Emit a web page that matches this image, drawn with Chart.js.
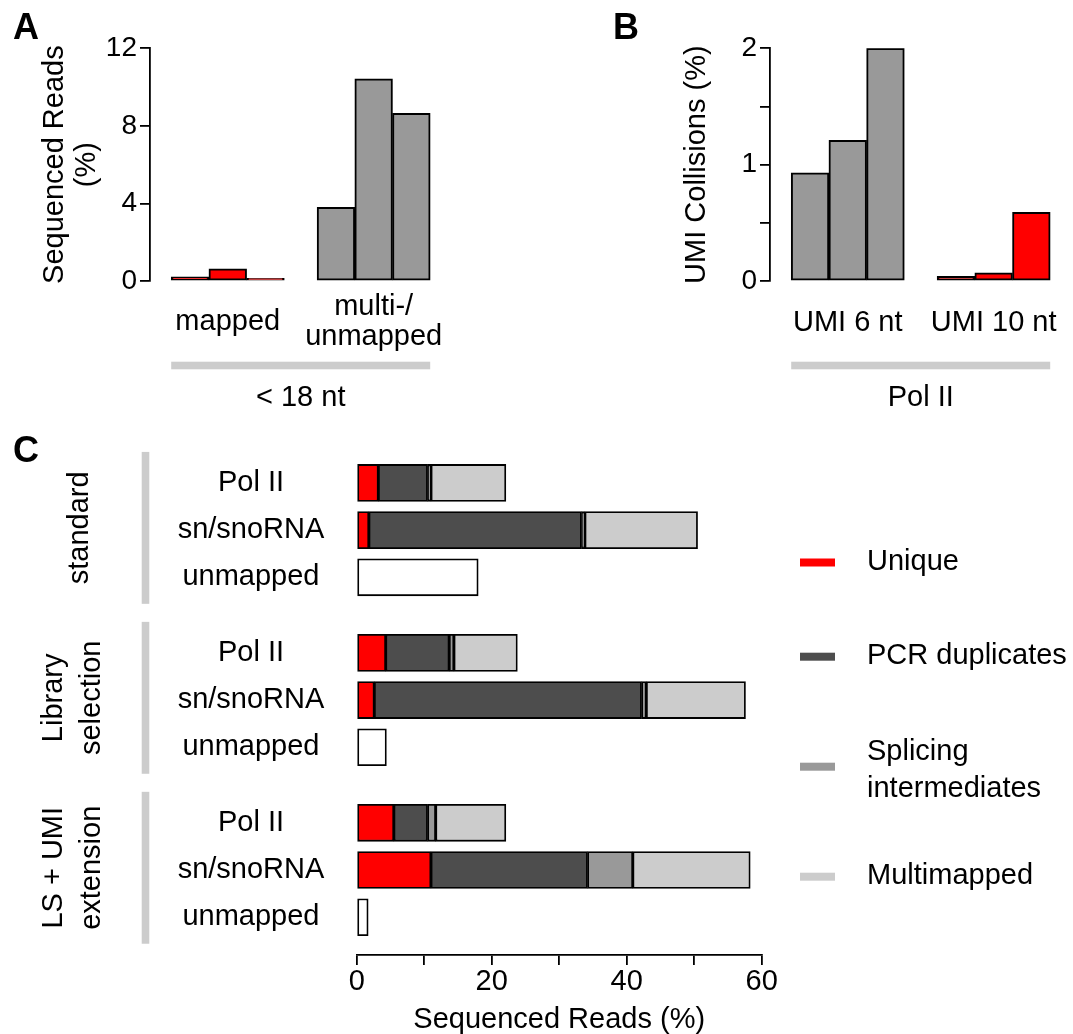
<!DOCTYPE html>
<html>
<head>
<meta charset="utf-8">
<script src="https://cdn.jsdelivr.net/npm/chart.js@4.4.1/dist/chart.umd.min.js"></script>
<style>
  html, body { margin: 0; padding: 0; background: #fff; }
  #figure { position: relative; width: 1073px; height: 1034px; overflow: hidden; background: #fff; }
  #figure canvas { position: absolute; left: 0; top: 0; }
</style>
</head>
<body>
<div id="figure">
  <canvas id="panelA" width="1073" height="1034"></canvas>
  <!-- wider than the figure so the last category label has room; the overflow is clipped -->
  <canvas id="panelB" width="1200" height="1034"></canvas>
  <canvas id="panelC" width="1073" height="1034"></canvas>
</div>
<script>
// ---------- data ----------
// library preparations (one bar per prep in panels A and B)
const preps = ['standard', 'Library selection', 'LS + UMI extension'];

// Panel A: reads shorter than 18 nt, % of sequenced reads
const shortReadClasses = ['mapped', ['multi-/', 'unmapped']];
const shortMapped = [0.22, 0.63, 0.14];
const shortMultiUnmapped = [3.8, 10.43, 8.65];
const shortTicks = [0, 4, 8, 12];

// Panel B: UMI collisions for Pol II reads, %
const umiLengths = ['UMI 6 nt', 'UMI 10 nt'];
const umi6Collisions = [0.93, 1.21, 2.0];
const umi10Collisions = [0.04, 0.07, 0.59];
const umiTicks = [0, 0.5, 1, 1.5, 2];

// Panel C: composition of sequenced reads, % (rows: Pol II, sn/snoRNA, unmapped per prep)
const prepGroups = ['standard', ['Library', 'selection'], ['LS + UMI', 'extension']];
const rowLabels = ['Pol II', 'sn/snoRNA', 'unmapped'];
const uniqueReads   = [3.2, 1.8, null, 4.3, 2.6, null, 5.5, 11.0, null];
const pcrDuplicates = [7.3, 31.5, null, 9.4, 39.6, null, 5.0, 23.2, null];
const splicingInter = [0.5, 0.5, null, 0.7, 0.7, null, 1.2, 6.7, null];
const multimapped   = [11.1, 16.7, null, 9.4, 14.7, null, 10.4, 17.4, null];
const unmappedReads = [null, null, 18.0, null, null, 4.4, null, null, 1.7];
const compositionTicks = [0, 10, 20, 30, 40, 50, 60];
const legendText = ['Unique', 'PCR duplicates', ['Splicing', 'intermediates'], 'Multimapped'];

// ---------- styling ----------
const FONT = "'Liberation Sans', Arial, Helvetica, sans-serif";
const RED = '#ff0000';
const GREY = '#999999';
const DARK = '#4d4d4d';
const LIGHT = '#cccccc';
const BAR_W = 37.7;
const W = 1073, H = 1034;

Chart.defaults.font.family = FONT;
Chart.defaults.font.size = 29;
Chart.defaults.color = '#000';
Chart.defaults.animation = false;
Chart.defaults.responsive = false;
Chart.defaults.devicePixelRatio = 1;
Chart.defaults.plugins.legend.display = false;
Chart.defaults.plugins.tooltip.enabled = false;

// grey bracket under a group of bars, with a caption, plus the panel letter
const bracketPlugin = {
  id: 'bracket',
  afterDraw(chart, args, opts) {
    const { ctx } = chart;
    const xs = chart.scales.x;
    const half = BAR_W * preps.length / 2;
    const x0 = xs.getPixelForValue(1) - half;
    const x1 = xs.getPixelForValue(opts.count) + half;
    ctx.save();
    ctx.fillStyle = LIGHT;
    ctx.fillRect(x0, 361.7, x1 - x0, 7.6);
    ctx.fillStyle = '#000';
    ctx.font = `29px ${FONT}`;
    ctx.textAlign = 'center';
    ctx.textBaseline = 'alphabetic';
    ctx.fillText(opts.caption, (x0 + x1) / 2, 406);
    ctx.font = `bold 36px ${FONT}`;
    ctx.textAlign = 'left';
    ctx.fillText(opts.letter, opts.letterX, 39);
    ctx.restore();
  }
};

function groupedBars(canvasId, o) {
  const canvas = document.getElementById(canvasId);
  const datasets = preps.map((name, i) => ({
    label: name,
    data: [{ x: 1, y: o.first[i] }, { x: 2, y: o.second[i] }],
    backgroundColor: o.colors,
    borderColor: '#000',
    borderWidth: 2,
    borderSkipped: false,
    barThickness: BAR_W
  }));
  return new Chart(canvas, {
    type: 'bar',
    data: { datasets },
    plugins: [bracketPlugin],
    options: {
      layout: { padding: { left: o.left, top: 48.3, right: canvas.width - o.right, bottom: 0 } },
      scales: {
        x: {
          type: 'linear', min: 0.467, max: 2.5, offset: false,
          afterBuildTicks: s => { s.ticks = o.labels.map((l, i) => ({ value: i + 1 })); },
          afterFit: s => { s.height = H - 281; },
          ticks: {
            autoSkip: false, maxRotation: 0, minRotation: 0,
            crossAlign: 'center', padding: o.labelPad,
            font: { size: 29, lineHeight: 1.03 },
            callback: v => o.labels[Math.round(v) - 1]
          },
          grid: { display: false, drawTicks: false, offset: false },
          border: { display: false }
        },
        y: {
          type: 'linear', min: 0, max: o.ticks[o.ticks.length - 1],
          afterBuildTicks: s => { s.ticks = o.ticks.map(v => ({ value: v })); },
          afterFit: s => { s.width = o.axisWidth; },
          ticks: { padding: 3, font: { size: 28 }, callback: o.tickLabel },
          grid: { display: true, drawOnChartArea: false, drawTicks: true, tickLength: 10, color: '#000', lineWidth: 1.8 },
          border: { display: true, color: '#000', width: 1.8 },
          title: { display: true, text: o.title, font: { size: 29, lineHeight: 1.1 }, padding: { top: o.titlePad, bottom: 0 } }
        }
      },
      plugins: { bracket: { caption: o.caption, count: o.labels.length, letter: o.letter, letterX: o.letterX } }
    }
  });
}

// Panel A
groupedBars('panelA', {
  first: shortMapped, second: shortMultiUnmapped, colors: [RED, GREY],
  labels: shortReadClasses, ticks: shortTicks, tickLabel: v => String(v),
  left: 0, axisWidth: 150, right: 446.6, labelPad: 26,
  title: ['Sequenced Reads', '(%)'], titlePad: 39,
  caption: '< 18 nt', letter: 'A', letterX: 13
});

// Panel B
groupedBars('panelB', {
  first: umi6Collisions, second: umi10Collisions, colors: [GREY, RED],
  labels: umiLengths, ticks: umiTicks, tickLabel: v => (Number.isInteger(v) ? String(v) : ''),
  left: 600, axisWidth: 170, right: 1066.6, labelPad: 42,
  title: 'UMI Collisions (%)', titlePad: 81,
  caption: 'Pol II', letter: 'B', letterX: 613
});

// Panel C: stacked horizontal bars on a numeric row axis (gap between preps)
const rowPos = [];
prepGroups.forEach((g, gi) => rowLabels.forEach((r, ri) => rowPos.push(gi * 3.6 + ri)));

const compositionSeries = [
  { label: 'Unique', values: uniqueReads, color: RED },
  { label: 'PCR duplicates', values: pcrDuplicates, color: DARK },
  { label: 'Splicing intermediates', values: splicingInter, color: GREY },
  { label: 'Multimapped', values: multimapped, color: LIGHT },
  { label: 'unmapped', values: unmappedReads, color: '#ffffff' }
];

const legendSwatchY = [562.5, 656.7, 766.7, 876.7];

const compositionDecor = {
  id: 'compositionDecor',
  afterDraw(chart) {
    const { ctx } = chart;
    const ys = chart.scales.y;
    ctx.save();
    // prep brackets and rotated prep names
    prepGroups.forEach((name, g) => {
      const top = ys.getPixelForValue(rowPos[g * 3]) - 31;
      const bottom = ys.getPixelForValue(rowPos[g * 3 + 2]) + 26.5;
      ctx.fillStyle = LIGHT;
      ctx.fillRect(141.7, top, 7.6, bottom - top);
      const lines = Array.isArray(name) ? name : [name];
      const baselines = lines.length === 1 ? [88.3] : [61.7, 100];
      ctx.fillStyle = '#000';
      ctx.font = `29px ${FONT}`;
      ctx.textAlign = 'center';
      ctx.textBaseline = 'alphabetic';
      lines.forEach((line, i) => {
        ctx.save();
        ctx.translate(baselines[i], (top + bottom) / 2);
        ctx.rotate(-Math.PI / 2);
        ctx.fillText(line, 0, 0);
        ctx.restore();
      });
    });
    // legend
    ctx.textAlign = 'left';
    ctx.textBaseline = 'alphabetic';
    ctx.font = `29px ${FONT}`;
    legendText.forEach((txt, i) => {
      const ds = chart.data.datasets[i];
      const cy = legendSwatchY[i];
      ctx.fillStyle = ds.backgroundColor;
      ctx.fillRect(800, cy - 4, 35, 8);
      ctx.fillStyle = '#000';
      if (Array.isArray(txt)) {
        ctx.fillText(txt[0], 867, cy - 6.7);
        ctx.fillText(txt[1], 867, cy + 30);
      } else {
        ctx.fillText(txt, 867, cy + 7.5);
      }
    });
    // panel letter
    ctx.font = `bold 36px ${FONT}`;
    ctx.fillText('C', 13, 462);
    ctx.restore();
  }
};

new Chart(document.getElementById('panelC'), {
  type: 'bar',
  data: {
    datasets: compositionSeries.map(s => ({
      label: s.label,
      stack: 'reads',
      data: s.values.map((v, i) => (v == null ? null : { x: v, y: rowPos[i] })).filter(Boolean),
      backgroundColor: s.color,
      borderColor: '#000',
      borderWidth: 1.8,
      borderSkipped: false,
      barThickness: 37
    }))
  },
  plugins: [compositionDecor],
  options: {
    indexAxis: 'y',
    layout: { padding: { left: 0, top: 435.7, right: W - 761.7, bottom: 0 } },
    scales: {
      y: {
        type: 'linear', reverse: true, min: -1, max: 10, stacked: true, offset: false,
        afterBuildTicks: s => { s.ticks = rowPos.map(v => ({ value: v })); },
        afterFit: s => { s.width = 356.7; },
        ticks: { autoSkip: false, crossAlign: 'center', padding: 32.4, font: { size: 29 },
                 callback: (v, i) => rowLabels[i % rowLabels.length] },
        grid: { display: false, drawTicks: false, offset: false },
        border: { display: false }
      },
      x: {
        type: 'linear', min: 0, max: 60, stacked: true,
        afterBuildTicks: s => { s.ticks = compositionTicks.map(v => ({ value: v })); },
        afterFit: s => { s.height = H - 955; },
        ticks: { autoSkip: false, maxRotation: 0, padding: 2, font: { size: 29, lineHeight: 1 },
                 callback: v => (v % 20 === 0 ? String(v) : '') },
        grid: { display: true, drawOnChartArea: false, drawTicks: true, tickLength: 10, color: '#000', lineWidth: 1.8 },
        border: { display: true, color: '#000', width: 1.8 },
        title: { display: true, text: 'Sequenced Reads (%)', font: { size: 29, lineHeight: 1 }, padding: { top: 0, bottom: 0 } }
      }
    }
  }
});
</script>
</body>
</html>
